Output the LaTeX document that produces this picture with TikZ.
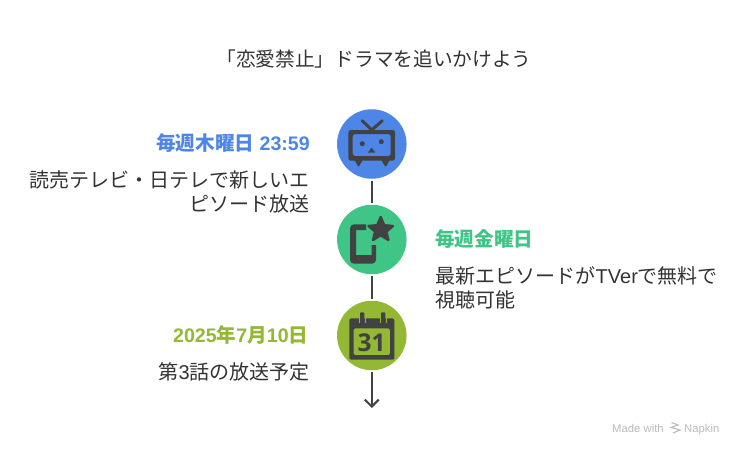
\documentclass[tikz,border=0pt]{standalone}
\usepackage{fontspec}
\setmainfont{Noto Sans CJK JP}
\newfontfamily\latinbold{Open Sans}
\newfontfamily\latinsans{Liberation Sans}
\usetikzlibrary{arrows.meta}
\definecolor{cblue}{HTML}{4E86E8}
\definecolor{cgreen}{HTML}{3FC585}
\definecolor{colive}{HTML}{93B834}
\definecolor{ink}{HTML}{424242}
\definecolor{txt}{HTML}{333333}
\definecolor{wmgray}{HTML}{BBBBBB}
\tikzset{
  disc/.style={circle,minimum size=69.5pt,inner sep=0pt,fill=#1},
  link/.style={draw=ink,line width=2pt},
  glyph/.style={fill=ink,draw=none},
  head/.style={inner sep=0pt,font=\fontsize{19.6}{23}\selectfont\bfseries,text=#1},
  body/.style={inner sep=0pt,font=\fontsize{20}{23.5}\selectfont,text=txt},
  wm/.style={inner sep=0pt,anchor=base west,text=wmgray,font=\latinsans\fontsize{11.3}{13}\selectfont},
}
\begin{document}
\begin{tikzpicture}[x=1pt,y=-1pt]
\useasboundingbox[fill=white] (0,0) rectangle (744,456);
\node[inner sep=0pt,font=\fontsize{19.7}{23}\selectfont,text=txt] (title) at (374,59) {「恋愛禁止」ドラマを追いかけよう};
% discs
\node[disc=cblue] (d1) at (371.8,144) {};
\node[disc=cgreen] (d2) at (371.8,239.5) {};
\node[disc=colive] (d3) at (371.8,335.5) {};
\coordinate (end) at (371.8,408);
% connectors
\draw[link,shorten <=2pt,shorten >=2pt] (d1) -- (d2);
\draw[link,shorten <=2pt,shorten >=2pt] (d2) -- (d3);
\draw[link,shorten <=2pt,-{Straight Barb[length=7pt,width=14pt,line width=2pt]}] (d3) -- (end);
% TV icon
\draw[ink,line width=3pt,line cap=round,line join=round] (362.3,120.7) -- (371.7,130) -- (382.3,120.7);
\fill[glyph,even odd rule,rounded corners=2.5pt] (348.3,130) rectangle (395,160.7) (352.7,134) rectangle (390.7,156);
\fill[glyph,rounded corners=1pt] (354.5,160) -- (362.8,160) -- (358.5,167.2) -- cycle;
\fill[glyph,rounded corners=1pt] (381.2,160) -- (389.8,160) -- (385.7,167.2) -- cycle;
\fill[glyph] (362.3,143.7) circle (2.5);
\fill[glyph] (381.3,141.7) circle (2.5);
\fill[glyph] (371.7,147.5) -- (368,152.5) -- (375.2,152.5) -- cycle;
% phone icon
\fill[glyph,even odd rule]
  (366,224.3) -- (354,224.3) to[out=180,in=90] (350,228.3) -- (350,259.7) to[out=270,in=180] (354,263.7) -- (372,263.7) to[out=0,in=270] (376,259.7) -- (376,245) -- (371.7,245) -- (371.7,255) -- (356,255) -- (356,230) -- (366,230) -- cycle;
\draw[ink,fill=ink,line width=2.4pt,line join=round]
  (380.7,217) -- (384.2,225.2) -- (393,226) -- (386.3,231.6) -- (388.4,240) -- (380.7,235.3) -- (373,240) -- (375.1,231.6) -- (368.4,226) -- (377.2,225.2) -- cycle;
% calendar icon
\fill[glyph,even odd rule,rounded corners=1.5pt]
  (349.3,318.3) rectangle (394.3,359.7) (353.5,328.3) rectangle (390,355);
\fill[glyph,rounded corners=0.8pt] (360,312.3) rectangle (364.3,323);
\fill[glyph,rounded corners=0.8pt] (381,312.3) rectangle (385.3,323);
\draw[colive,line width=1pt] (359,318) -- (359,323) (365.3,318) -- (365.3,323) (380,318) -- (380,323) (386.3,318) -- (386.3,323);
\node[inner sep=0pt,text=ink,font=\latinbold\fontsize{24.5}{25}\selectfont\bfseries] (cal) at (371.7,342.5) {31};
% texts
\node[head=cblue,anchor=east] (h1) at (310,143.5) {毎週木曜日{\latinsans\bfseries\ 23:59}};
\node[body,anchor=east,align=right] (b1) at (310,191.7) {読売テレビ・日テレで新しいエ\\ピソード放送};
\node[head=cgreen,anchor=west] (h2) at (435,239.5) {毎週金曜日};
\node[body,anchor=west,align=left] (b2) at (435.5,288) {最新エピソードが{\latinsans TVer}で無料で\\視聴可能};
\node[head=colive,anchor=east] (h3) at (308.5,335.5) {{\latinsans\bfseries 2025}年{\latinsans\bfseries 7}月{\latinsans\bfseries 10}日};
\node[body,anchor=east] (b3) at (310,372) {第{\latinsans 3}話の放送予定};
% watermark
\node[wm] (m1) at (612,432) {Made with};
\node[wm] (m2) at (684,432) {Napkin};
\draw[wmgray,line width=1.1pt] (671.5,422.5) -- (678,425) -- (671,427.5) -- (680,430) -- (673,433);
\end{tikzpicture}
\end{document}
